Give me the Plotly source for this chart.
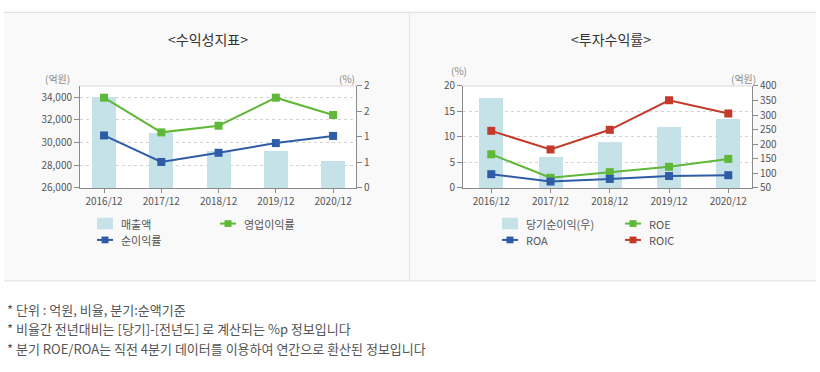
import plotly.graph_objects as go

W, H = 820, 372
FONT = "Noto Sans CJK KR"

categories = ["2016/12", "2017/12", "2018/12", "2019/12", "2020/12"]

# Left chart: 수익성지표
sales = [34000, 30850, 29300, 29230, 28380]          # 매출액 (억원)
op_margin = [1.77, 1.09, 1.22, 1.77, 1.43]           # 영업이익률 (%)
net_margin = [1.03, 0.51, 0.69, 0.88, 1.02]          # 순이익률 (%)
left_y_ticks = [26000, 28000, 30000, 32000, 34000]
left_y_labels = ["26,000", "28,000", "30,000", "32,000", "34,000"]
left_y2_ticks = [0, 0.5, 1, 1.5, 2]
left_y2_labels = ["0", "1", "1", "2", "2"]

# Right chart: 투자수익률
net_income = [358, 155, 208, 259, 287]               # 당기순이익(우) (억원)
roe = [6.6, 2.0, 3.1, 4.15, 5.7]
roa = [2.7, 1.26, 1.77, 2.34, 2.5]
roic = [11.2, 7.55, 11.4, 17.2, 14.6]
right_y_ticks = [0, 5, 10, 15, 20]
right_y2_ticks = [50, 100, 150, 200, 250, 300, 350, 400]

footnotes = [
    "* 단위 : 억원, 비율, 분기:순액기준",
    "* 비율간 전년대비는 [당기]-[전년도] 로 계산되는 %p 정보입니다",
    "* 분기 ROE/ROA는 직전 4분기 데이터를 이용하여 연간으로 환산된 정보입니다",
]

BAR = "#c6e2e9"
GREEN = "#5fb838"
BLUE = "#2e5ca6"
RED = "#c33a2b"
AXC = "#8a8a8a"
TXT = "#555555"


def px(x):
    return x / W


def py(y):
    return 1 - y / H


fig = go.Figure()
xi = list(range(len(categories)))

fig.add_trace(go.Bar(x=xi, y=sales, base=0, marker=dict(color=BAR, line=dict(width=0)),
                     width=0.42, xaxis="x", yaxis="y", name="매출액"))
fig.add_trace(go.Scatter(x=xi, y=op_margin, mode="lines+markers", xaxis="x", yaxis="y2",
                         line=dict(color=GREEN, width=2), cliponaxis=False,
                         marker=dict(symbol="square", size=8, color=GREEN), name="영업이익률"))
fig.add_trace(go.Scatter(x=xi, y=net_margin, mode="lines+markers", xaxis="x", yaxis="y2",
                         line=dict(color=BLUE, width=2), cliponaxis=False,
                         marker=dict(symbol="square", size=8, color=BLUE), name="순이익률"))

fig.add_trace(go.Bar(x=xi, y=net_income, base=0, marker=dict(color=BAR, line=dict(width=0)),
                     width=0.405, xaxis="x2", yaxis="y3", name="당기순이익(우)"))
fig.add_trace(go.Scatter(x=xi, y=roic, mode="lines+markers", xaxis="x2", yaxis="y4",
                         line=dict(color=RED, width=2), cliponaxis=False,
                         marker=dict(symbol="square", size=8, color=RED), name="ROIC"))
fig.add_trace(go.Scatter(x=xi, y=roe, mode="lines+markers", xaxis="x2", yaxis="y4",
                         line=dict(color=GREEN, width=2), cliponaxis=False,
                         marker=dict(symbol="square", size=8, color=GREEN), name="ROE"))
fig.add_trace(go.Scatter(x=xi, y=roa, mode="lines+markers", xaxis="x2", yaxis="y4",
                         line=dict(color=BLUE, width=2), cliponaxis=False,
                         marker=dict(symbol="square", size=8, color=BLUE), name="ROA"))

L_X0, L_X1 = 80, 356
R_X0, R_X1 = 463, 752
Y_TOP, Y_BOT = 81, 187
ydom = [py(Y_BOT), py(Y_TOP)]

tickfont = dict(family=FONT, size=10, color=TXT)

common_x = dict(tickmode="array", tickvals=xi, ticktext=categories, showgrid=False,
                showline=True, linecolor=AXC, linewidth=1, ticks="outside", ticklen=4,
                tickcolor=AXC, tickfont=tickfont, zeroline=False, fixedrange=True)

fig.update_layout(
    width=W, height=H, margin=dict(l=0, r=0, t=0, b=0),
    paper_bgcolor="white", plot_bgcolor="rgba(0,0,0,0)",
    showlegend=False, bargap=0,
    font=dict(family=FONT, color=TXT),
    xaxis=dict(domain=[px(L_X0), px(L_X1)], range=[-0.42, 4.40], anchor="y", **common_x),
    yaxis=dict(domain=ydom, range=[26000, 35000], tickmode="array", tickvals=left_y_ticks,
               ticktext=left_y_labels, showgrid=True, gridcolor="#d2d2d2", griddash="dot",
               gridwidth=1, showline=True, linecolor=AXC, ticks="outside", ticklen=5,
               tickcolor=AXC, tickfont=tickfont, zeroline=False, anchor="x"),
    yaxis2=dict(domain=ydom, range=[0, 2], overlaying="y", side="right", anchor="x",
                tickmode="array", tickvals=left_y2_ticks, ticktext=left_y2_labels,
                showgrid=False, showline=True, linecolor=AXC, ticks="outside", ticklen=5,
                tickcolor=AXC, tickfont=tickfont, zeroline=False),
    xaxis2=dict(domain=[px(R_X0), px(R_X1)], range=[-0.477, 4.40], anchor="y3", **common_x),
    yaxis3=dict(domain=ydom, range=[50, 400], side="right", anchor="x2",
                tickmode="array", tickvals=right_y2_ticks, showgrid=False, showline=True,
                linecolor=AXC, ticks="outside", ticklen=5, tickcolor=AXC, tickfont=tickfont,
                zeroline=False),
    yaxis4=dict(domain=ydom, range=[0, 20], overlaying="y3", side="left", anchor="x2",
                tickmode="array", tickvals=right_y_ticks,
                showgrid=True, gridcolor="#d2d2d2", griddash="dot", gridwidth=1,
                showline=True, linecolor=AXC, ticks="outside", ticklen=5, tickcolor=AXC,
                tickfont=tickfont, zeroline=False),
)

shapes = []
# panel background and borders
shapes.append(dict(type="rect", xref="paper", yref="paper", x0=px(4), x1=px(816), y0=py(283), y1=py(4),
                   fillcolor="#f9f9f9", line=dict(width=0), layer="below"))
shapes.append(dict(type="line", xref="paper", yref="paper", x0=px(4), x1=px(816), y0=py(4.5), y1=py(4.5),
                   line=dict(color="#dddddd", width=1), layer="below"))
shapes.append(dict(type="line", xref="paper", yref="paper", x0=px(4), x1=px(816), y0=py(283.5), y1=py(283.5),
                   line=dict(color="#dddddd", width=1), layer="below"))
shapes.append(dict(type="line", xref="paper", yref="paper", x0=px(409.5), x1=px(409.5), y0=py(283), y1=py(5),
                   line=dict(color="#e2e2e2", width=1), layer="below"))
# white plot areas with top border
for x0, x1 in [(L_X0, L_X1), (R_X0, R_X1)]:
    shapes.append(dict(type="rect", xref="paper", yref="paper", x0=px(x0), x1=px(x1),
                       y0=py(Y_BOT), y1=py(Y_TOP), fillcolor="white", line=dict(width=0), layer="below"))
    shapes.append(dict(type="line", xref="paper", yref="paper", x0=px(x0), x1=px(x1),
                       y0=py(Y_TOP), y1=py(Y_TOP), line=dict(color="#d8d8d8", width=1), layer="below"))

annotations = []


def text(x, y, s, size=11, color=TXT, xanchor="left"):
    annotations.append(dict(x=px(x), y=py(y), xref="paper", yref="paper", text=s, showarrow=False,
                            xanchor=xanchor, yanchor="middle",
                            font=dict(family=FONT, size=size, color=color)))


# titles
text(208, 32, "&lt;수익성지표&gt;", size=14, color="#333333", xanchor="center")
text(611, 32, "&lt;투자수익률&gt;", size=14, color="#333333", xanchor="center")
# axis unit labels
text(58, 73, "(억원)", size=10, color="#888888", xanchor="center")
text(347, 73, "(%)", size=10, color="#888888", xanchor="center")
text(459, 65, "(%)", size=10, color="#888888", xanchor="center")
text(743, 73, "(억원)", size=10, color="#888888", xanchor="center")


def legend_box(x, y, label):
    shapes.append(dict(type="rect", xref="paper", yref="paper", x0=px(x), x1=px(x + 16),
                       y0=py(y + 6), y1=py(y - 6), fillcolor=BAR, line=dict(width=0)))
    text(x + 22, y, label, size=11)


def legend_line(x, y, color, label):
    shapes.append(dict(type="line", xref="paper", yref="paper", x0=px(x), x1=px(x + 16),
                       y0=py(y), y1=py(y), line=dict(color=color, width=2)))
    shapes.append(dict(type="rect", xref="paper", yref="paper", x0=px(x + 4.5), x1=px(x + 11.5),
                       y0=py(y + 3.5), y1=py(y - 3.5), fillcolor=color, line=dict(width=0)))
    text(x + 22, y, label, size=11)


legend_box(97, 224, "매출액")
legend_line(220, 224, GREEN, "영업이익률")
legend_line(97, 241, BLUE, "순이익률")
legend_box(502, 224, "당기순이익(우)")
legend_line(625, 224, GREEN, "ROE")
legend_line(502, 241, BLUE, "ROA")
legend_line(625, 241, RED, "ROIC")

for i, s in enumerate(footnotes):
    text(5, 313 + i * 20.5, s, size=13, color="#555555")

fig.update_layout(shapes=shapes, annotations=annotations)
fig.write_html("out.html", config={"displayModeBar": False},
               post_script="document.body.style.margin='0';document.body.style.overflow='hidden';")
